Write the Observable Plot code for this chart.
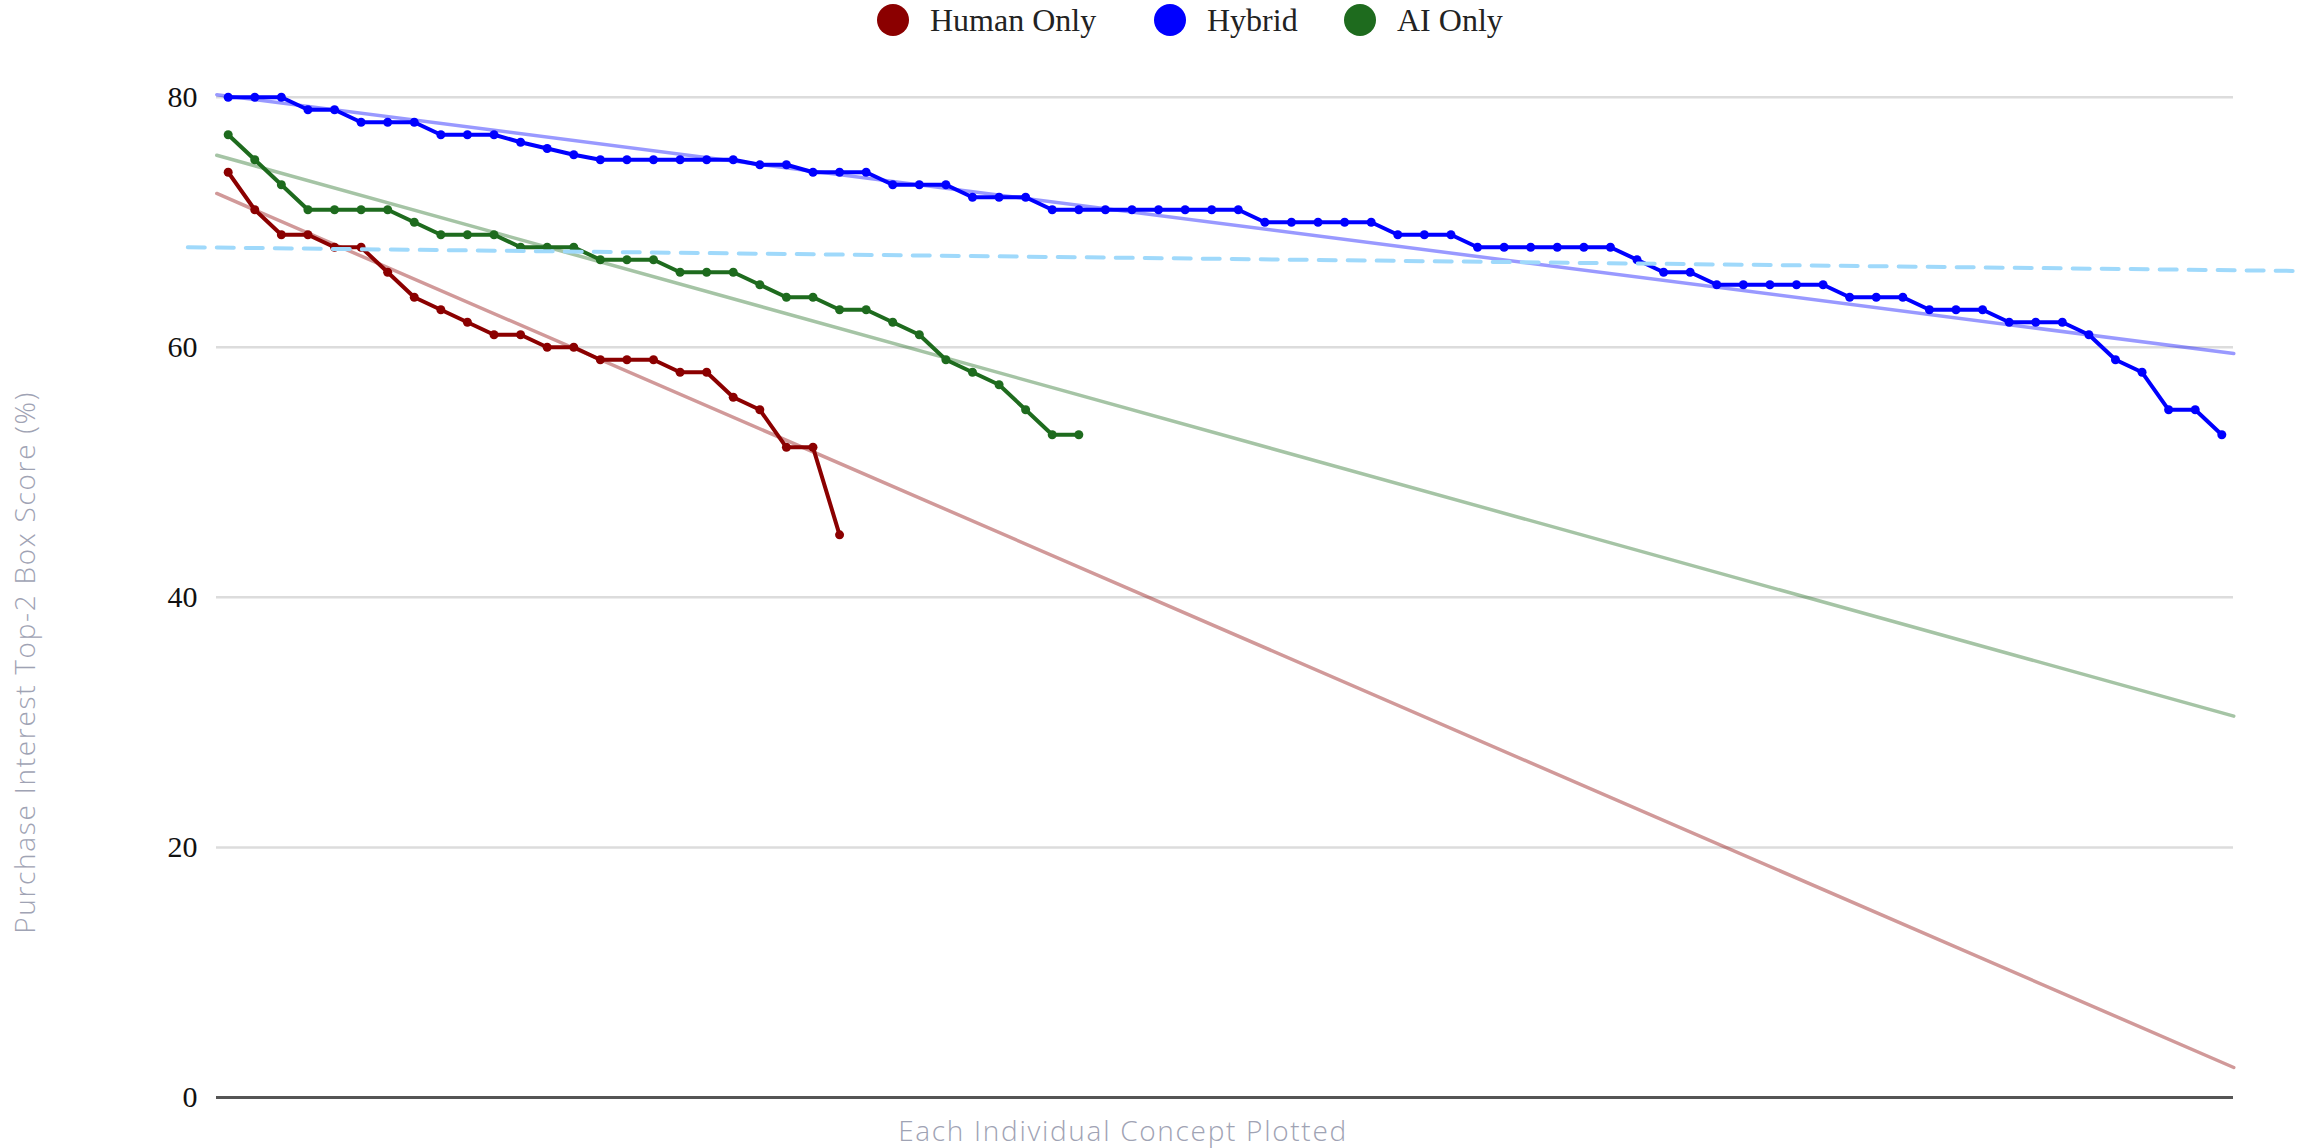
<!DOCTYPE html>
<html><head><meta charset="utf-8">
<script src="https://cdn.jsdelivr.net/npm/d3@7"></script>
<script src="https://cdn.jsdelivr.net/npm/@observablehq/plot@0.6"></script>
<style>
body{margin:0;background:#fff;width:2300px;height:1148px;overflow:hidden;}
#legend{position:relative;height:40px;font-family:"Liberation Serif","Times New Roman",serif;font-size:32px;color:#222;}
.item{position:absolute;top:0;height:40px;display:flex;align-items:center;white-space:nowrap;}
.sw{width:32px;height:32px;border-radius:50%;margin-right:21px;}
#chart{height:1072px;}
#caption{width:2246px;height:36px;line-height:36px;text-align:center;font-family:"Open Sans",sans-serif;font-weight:300;font-size:28px;letter-spacing:1.7px;color:#9fa3b4;}
.ytitle text{letter-spacing:1.7px;}
</style></head><body>
<div id="legend"></div><div id="chart"></div><div id="caption"></div>
<script>
// ---- data ----
const seriesNames = ["Human Only", "Hybrid", "AI Only"];
const seriesColors = ["#8b0000", "#0000ff", "#1e6b1e"];
const humanOnly = [74,71,69,69,68,68,66,64,63,62,61,61,60,60,59,59,59,58,58,56,55,52,52,45];
const hybrid = [80,80,80,79,79,78,78,78,77,77,77,76.4,75.9,75.4,75,75,75,75,75,75,74.6,74.6,74,74,74,73,73,73,72,72,72,71,71,71,71,71,71,71,71,70,70,70,70,70,69,69,69,68,68,68,68,68,68,67,66,66,65,65,65,65,65,64,64,64,63,63,63,62,62,62,61,59,58,55,55,53];
const aiOnly = [77,75,73,71,71,71,71,70,69,69,69,68,68,68,67,67,67,66,66,66,65,64,64,63,63,62,61,59,58,57,55,53,53];
// trend lines (at the plot edges)
const trendX = [-0.43, 75.45];
const humanTrend = [72.3, 2.4];
const hybridTrend = [80.2, 59.5];
const aiTrend = [75.36, 30.5];
// dashed reference line
const benchX = [-1.52, 77.97];
const benchY = [68.0, 66.1];
const yTicks = [0, 20, 40, 60, 80];
const yLabel = "Purchase Interest Top-2 Box Score (%)";
const xLabel = "Each Individual Concept Plotted";

// ---- tables ----
const rows = [];
[humanOnly, hybrid, aiOnly].forEach((arr, s) => arr.forEach((v, i) => rows.push({series: seriesNames[s], i, v})));
const trends = [];
[humanTrend, hybridTrend, aiTrend].forEach((arr, s) => arr.forEach((v, k) => trends.push({series: seriesNames[s], i: trendX[k], v})));
const bench = benchX.map((x, k) => ({i: x, v: benchY[k]}));

// ---- legend ----
const legendLeft = [877, 1154, 1344];
const legend = document.getElementById("legend");
seriesNames.forEach((n, k) => {
  const it = document.createElement("div");
  it.className = "item";
  it.style.left = legendLeft[k] + "px";
  it.innerHTML = `<span class="sw" style="background:${seriesColors[k]}"></span><span>${n}</span>`;
  legend.appendChild(it);
});
document.getElementById("caption").textContent = xLabel;

const chart = Plot.plot({
  width: 2300, height: 1072,
  marginLeft: 216, marginRight: 67, marginTop: 56.7, marginBottom: 15,
  x: {domain: [-0.44, 75.44], axis: null},
  y: {domain: [0, 80], axis: null},
  color: {domain: seriesNames, range: seriesColors},
  style: {fontFamily: "'Liberation Serif', serif", fontSize: "30px", color: "#111", background: "white", overflow: "visible"},
  marks: [
    Plot.gridY(yTicks.filter(t => t > 0), {stroke: "#dcdcdc", strokeOpacity: 1, strokeWidth: 2.5}),
    Plot.ruleY([0], {stroke: "#555", strokeWidth: 3}),
    Plot.axisY(yTicks, {tickSize: 0, tickPadding: 19, fontSize: 30, label: null}),
    Plot.line(rows, {x: "i", y: "v", z: "series", stroke: "series", strokeWidth: 4}),
    Plot.dot(rows, {x: "i", y: "v", fill: "series", r: 4.5}),
    Plot.line(trends, {x: "i", y: "v", z: "series", stroke: "series", strokeOpacity: 0.4, strokeWidth: 3.5}),
    Plot.line(bench, {x: "i", y: "v", stroke: "#9fd9fb", strokeWidth: 4, strokeDasharray: "17,12"}),
    Plot.text([yLabel], {text: d => d, frameAnchor: "left", textAnchor: "middle", rotate: -90, dx: -190, dy: 65, fill: "#9fa3b4", fontFamily: "'Open Sans', sans-serif", fontWeight: 300, fontSize: 28, className: "ytitle"})
  ]
});
document.getElementById("chart").appendChild(chart);
</script>
</body></html>
